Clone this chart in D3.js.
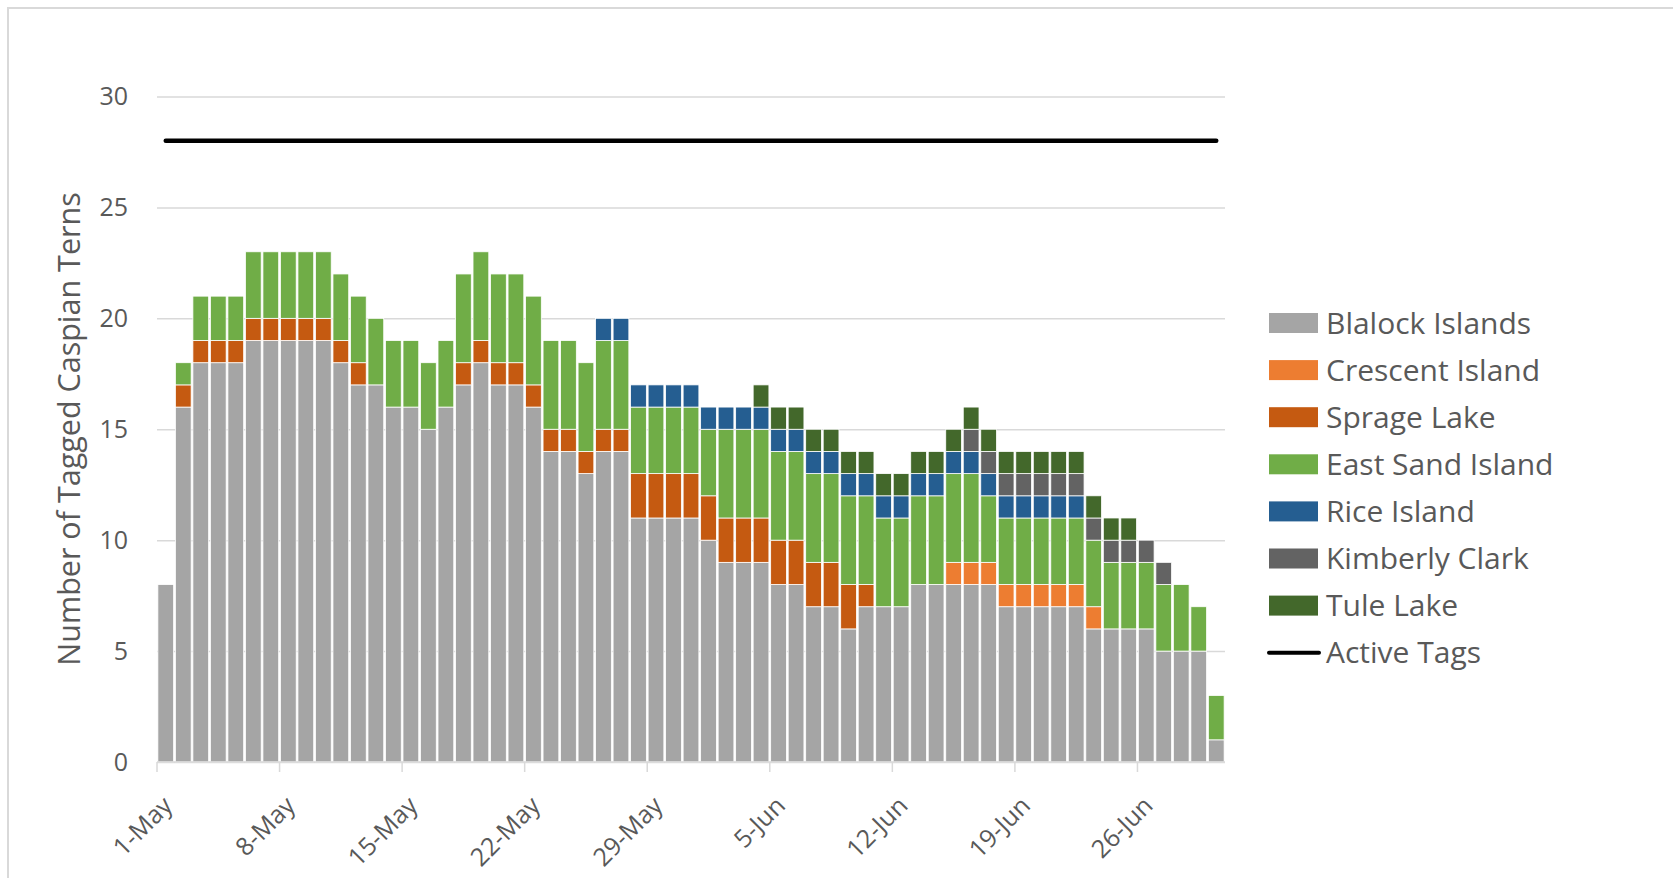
<!DOCTYPE html>
<html>
<head>
<meta charset="utf-8">
<script src="https://cdn.jsdelivr.net/npm/d3@7"></script>
<style>
  body { margin: 0; background: #fff; }
  text { font-family: "Segoe UI", "Open Sans", sans-serif; fill: #595959; }
</style>
</head>
<body>
<div id="container"></div>
<script>
/* CONSTANTS AND GLOBALS */
const width = 1673,
  height = 878,
  margin = { top: 96.5, bottom: 116, left: 157, right: 448 };

// DATA (one value per day, 1-May .. 30-Jun)
const days = [];
for (let d = 1; d <= 31; d++) days.push(d + "-May");
for (let d = 1; d <= 30; d++) days.push(d + "-Jun");

const tickLabels = ["1-May", "8-May", "15-May", "22-May", "29-May", "5-Jun", "12-Jun", "19-Jun", "26-Jun"];

const seriesNames = ["Blalock Islands", "Crescent Island", "Sprage Lake", "East Sand Island", "Rice Island", "Kimberly Clark", "Tule Lake"];
const seriesColors = ["#a5a5a5", "#ed7d31", "#c55a11", "#70ad47", "#255e91", "#636363", "#43682b"];

const blalock = [8,16,18,18,18,19,19,19,19,19,18,17,17,16,16,15,16,17,18,17,17,16,14,14,13,14,14,11,11,11,11,
                 10,9,9,9,8,8,7,7,6,7,7,7,8,8,8,8,8,7,7,7,7,7,6,6,6,6,5,5,5,1];
const crescent = [0,0,0,0,0,0,0,0,0,0,0,0,0,0,0,0,0,0,0,0,0,0,0,0,0,0,0,0,0,0,0,
                  0,0,0,0,0,0,0,0,0,0,0,0,0,0,1,1,1,1,1,1,1,1,1,0,0,0,0,0,0,0];
const sprage = [0,1,1,1,1,1,1,1,1,1,1,1,0,0,0,0,0,1,1,1,1,1,1,1,1,1,1,2,2,2,2,
                2,2,2,2,2,2,2,2,2,1,0,0,0,0,0,0,0,0,0,0,0,0,0,0,0,0,0,0,0,0];
const eastSand = [0,1,2,2,2,3,3,3,3,3,3,3,3,3,3,3,3,4,4,4,4,4,4,4,4,4,4,3,3,3,3,
                  3,4,4,4,4,4,4,4,4,4,4,4,4,4,4,4,3,3,3,3,3,3,3,3,3,3,3,3,2,2];
const rice = [0,0,0,0,0,0,0,0,0,0,0,0,0,0,0,0,0,0,0,0,0,0,0,0,0,1,1,1,1,1,1,
              1,1,1,1,1,1,1,1,1,1,1,1,1,1,1,1,1,1,1,1,1,1,0,0,0,0,0,0,0,0];
const kimberly = [0,0,0,0,0,0,0,0,0,0,0,0,0,0,0,0,0,0,0,0,0,0,0,0,0,0,0,0,0,0,0,
                  0,0,0,0,0,0,0,0,0,0,0,0,0,0,0,1,1,1,1,1,1,1,1,1,1,1,1,0,0,0];
const tule = [0,0,0,0,0,0,0,0,0,0,0,0,0,0,0,0,0,0,0,0,0,0,0,0,0,0,0,0,0,0,0,
              0,0,0,1,1,1,1,1,1,1,1,1,1,1,1,1,1,1,1,1,1,1,1,1,1,0,0,0,0,0];
const activeTags = days.map(() => 28);

const yTicks = [0, 5, 10, 15, 20, 25, 30];

// build table for d3.stack
const seriesValues = [blalock, crescent, sprage, eastSand, rice, kimberly, tule];
const table = days.map((day, i) => {
  const row = { day };
  seriesNames.forEach((s, k) => row[s] = seriesValues[k][i]);
  return row;
});

const svg = d3.select("#container")
  .append("svg")
  .attr("width", width)
  .attr("height", height);

// chart border (only top and left show)
svg.append("path")
  .attr("d", `M8,${height} V8 H${width}`)
  .attr("fill", "none")
  .attr("stroke", "#d9d9d9")
  .attr("stroke-width", 2);

// SCALES
const x = d3.scaleBand()
  .domain(days)
  .range([margin.left, width - margin.right])
  .paddingInner(0.1)
  .paddingOuter(0.05);

const y = d3.scaleLinear()
  .domain([0, 30])
  .range([height - margin.bottom, margin.top]);

// GRIDLINES + Y AXIS
const yAxis = svg.append("g")
  .attr("transform", `translate(${margin.left},0)`)
  .call(d3.axisLeft(y).tickValues(yTicks).tickSize(-(width - margin.left - margin.right)).tickPadding(29));
yAxis.select(".domain").remove();
yAxis.selectAll(".tick line").attr("stroke", "#d9d9d9").attr("stroke-width", 1.5);
yAxis.selectAll(".tick text").attr("font-size", 25).style("font-family", "'Segoe UI','Open Sans',sans-serif").attr("fill", "#595959");

// BARS
const stacked = d3.stack().keys(seriesNames)(table);
const color = d3.scaleOrdinal().domain(seriesNames).range(seriesColors);

svg.append("g")
  .selectAll("g")
  .data(stacked)
  .join("g")
  .attr("fill", d => color(d.key))
  .selectAll("rect")
  .data(d => d.filter(p => p[1] > p[0]))
  .join("rect")
  .attr("x", d => x(d.data.day))
  .attr("width", x.bandwidth())
  .attr("y", d => y(d[1]))
  .attr("height", d => y(d[0]) - y(d[1]))
  .attr("stroke", "#fff")
  .attr("stroke-width", 0.8);

// X AXIS
const step = x.step();
const x0 = margin.left;
const tickX = label => x0 + days.indexOf(label) * step;

svg.append("line")
  .attr("x1", x0).attr("x2", width - margin.right)
  .attr("y1", y(0)).attr("y2", y(0))
  .attr("stroke", "#d9d9d9").attr("stroke-width", 1.5);

svg.append("g")
  .selectAll("line")
  .data(tickLabels)
  .join("line")
  .attr("x1", d => tickX(d)).attr("x2", d => tickX(d))
  .attr("y1", y(0)).attr("y2", y(0) + 10)
  .attr("stroke", "#d9d9d9").attr("stroke-width", 1.5);

svg.append("g")
  .selectAll("text")
  .data(tickLabels)
  .join("text")
  .attr("transform", d => `translate(${x(d) + x.bandwidth() / 2 + 2},${y(0) + 39}) rotate(-45)`)
  .attr("text-anchor", "end")
  .attr("dy", "0.35em")
  .attr("font-size", 25)
  .text(d => d);

// ACTIVE TAGS LINE
const line = d3.line()
  .x((d, i) => x(days[i]) + x.bandwidth() / 2)
  .y(d => y(d));

svg.append("path")
  .datum(activeTags)
  .attr("d", line)
  .attr("fill", "none")
  .attr("stroke", "#000")
  .attr("stroke-width", 4.5)
  .attr("stroke-linecap", "round");

// Y TITLE
svg.append("text")
  .attr("transform", `translate(69,429) rotate(-90)`)
  .attr("text-anchor", "middle")
  .attr("dy", "0.35em")
  .attr("font-size", 30.5)
  .text("Number of Tagged Caspian Terns");

// LEGEND
const legendY0 = 323, legendStep = 47.1;
const legend = svg.append("g");

legend.selectAll("rect")
  .data(seriesNames)
  .join("rect")
  .attr("x", 1269)
  .attr("y", (d, i) => legendY0 + i * legendStep - 10)
  .attr("width", 49)
  .attr("height", 20)
  .attr("fill", d => color(d));

legend.append("line")
  .attr("x1", 1269).attr("x2", 1319)
  .attr("y1", legendY0 + 7 * legendStep).attr("y2", legendY0 + 7 * legendStep)
  .attr("stroke", "#000").attr("stroke-width", 4).attr("stroke-linecap", "round");

legend.selectAll("text")
  .data(seriesNames.concat(["Active Tags"]))
  .join("text")
  .attr("x", 1326)
  .attr("y", (d, i) => legendY0 + i * legendStep)
  .attr("dy", "0.35em")
  .attr("font-size", 30)
  .text(d => d);
</script>
</body>
</html>
